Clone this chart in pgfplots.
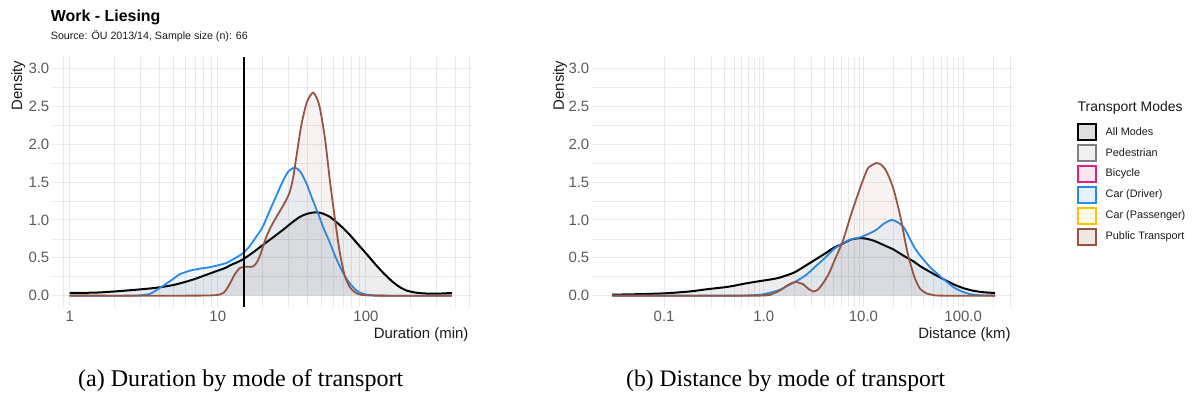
\documentclass[border=0pt]{standalone}
\usepackage{fontspec}
\setmainfont{Liberation Sans}
\newfontfamily\capfont{Liberation Serif}
\usepackage{graphicx}
\usepackage{pgfplots}
\pgfplotsset{compat=1.18}
\usepackage{pgfplotstable}

\definecolor{gridc}{RGB}{233,233,233}
\definecolor{tickc}{RGB}{90,90,90}
\definecolor{titc}{RGB}{25,25,25}
\definecolor{carblue}{RGB}{40,138,230}
\definecolor{ptbrown}{RGB}{152,84,64}
\definecolor{bikepink}{RGB}{214,38,118}
\definecolor{pasyellow}{RGB}{255,193,7}
\definecolor{pedgray}{RGB}{128,128,128}
\definecolor{allfill}{RGB}{221,221,221}
\definecolor{pedfill}{RGB}{240,240,240}
\definecolor{bikefill}{RGB}{250,228,240}
\definecolor{carfill}{RGB}{228,240,252}
\definecolor{pasfill}{RGB}{255,248,226}
\definecolor{ptfill}{RGB}{240,230,226}

% ---------------- Duration (min) ----------------
\pgfplotstableread{
x y
1 0.035
1.5 0.04
2 0.055
2.7 0.075
3.5 0.095
4.05 0.11
5 0.14
6 0.18
7 0.22
8.5 0.28
10 0.33
11.4 0.37
12.1 0.40
13.5 0.44
14.8 0.48
17 0.56
20.2 0.67
24 0.78
27.6 0.87
31 0.95
35.8 1.04
40 1.08
45.3 1.10
50 1.09
57.1 1.04
65 0.95
72 0.87
78 0.80
90 0.66
101 0.55
115 0.42
131 0.30
150 0.19
170 0.11
190 0.065
220 0.038
260 0.027
300 0.026
340 0.03
380 0.035
}\durall

\pgfplotstableread{
x y
1 0
2.5 0
3 0.005
3.5 0.025
4.05 0.10
4.5 0.16
5 0.22
5.5 0.28
6.5 0.33
7.5 0.355
8.8 0.375
10 0.40
11.4 0.43
12.7 0.48
14.8 0.56
16.5 0.66
18.2 0.78
20 0.90
22.5 1.13
25 1.33
27.6 1.52
30 1.64
33.1 1.69
36 1.64
39.7 1.48
43 1.30
47.4 1.09
52 0.88
57.1 0.70
62 0.52
66.6 0.39
72 0.26
78 0.16
85 0.08
91 0.04
100 0.015
112 0.005
130 0
380 0
}\durcar

\pgfplotstableread{
x y
1 0
7 0
9.3 0.005
10 0.01
11 0.04
12 0.15
13 0.28
14 0.36
15 0.38
16.5 0.38
17.3 0.385
18.2 0.43
19.2 0.52
21.3 0.78
23 0.92
24.9 1.04
28.2 1.22
30.5 1.36
32.2 1.55
33.9 1.83
36.7 2.26
40 2.56
44.1 2.68
48.3 2.52
52.8 2.09
57.1 1.52
61.9 1.00
66.6 0.57
72 0.26
78 0.11
85 0.04
91 0.015
100 0.005
120 0
380 0
}\durpt

% ---------------- Distance (km) ----------------
\pgfplotstableread{
x y
0.03 0.013
0.05 0.018
0.1 0.03
0.18 0.055
0.27 0.085
0.4 0.11
0.5 0.13
0.65 0.16
0.8 0.18
1.0 0.20
1.25 0.22
1.46 0.24
1.98 0.30
2.31 0.35
3.15 0.46
4.28 0.57
5.0 0.63
6.28 0.69
7.5 0.74
9.25 0.76
10.8 0.75
13 0.72
17.1 0.65
20 0.61
25 0.53
32 0.45
37 0.39
50 0.29
65 0.21
80 0.15
100 0.10
126 0.065
160 0.045
209 0.035
}\disall

\pgfplotstableread{
x y
0.03 0
0.5 0
0.7 0.003
0.92 0.012
1.0 0.02
1.2 0.045
1.46 0.08
1.98 0.17
2.31 0.22
2.7 0.28
3.4 0.40
4.2 0.51
5.0 0.61
6 0.68
7.35 0.74
9.25 0.77
11 0.81
13.5 0.87
16 0.95
19.2 1.00
22 0.97
25.1 0.91
28 0.80
32 0.65
37 0.53
47 0.37
55 0.29
63 0.22
75 0.14
86 0.087
100 0.05
117 0.02
140 0.008
170 0.002
209 0
}\discar

\pgfplotstableread{
x y
0.03 0
0.8 0
1.0 0.005
1.2 0.02
1.46 0.07
1.75 0.14
2.06 0.18
2.49 0.15
2.8 0.09
3.14 0.055
3.5 0.08
3.96 0.17
4.5 0.29
4.99 0.43
5.6 0.58
6.28 0.74
7.63 1.10
9.25 1.42
10.4 1.60
11.2 1.69
13.4 1.75
15 1.73
16.5 1.67
18 1.57
20 1.41
22 1.20
24.2 0.96
26 0.74
28.2 0.52
31 0.33
33 0.22
37 0.09
43 0.03
50 0.008
60 0
209 0
}\dispt

\pgfplotsset{
  mybase/.style={
    scale only axis, height=250bp,
    ymin=-0.15, ymax=3.15,
    axis line style={draw=none},
    major tick length=0pt, minor tick length=0pt,
    xmajorgrids, ymajorgrids, xminorgrids, yminorgrids,
    major grid style={draw=gridc, line width=0.9bp},
    minor grid style={draw=gridc, line width=0.5bp},
    ytick={0,0.5,1,1.5,2,2.5,3},
    yticklabels={0.0,0.5,1.0,1.5,2.0,2.5,3.0},
    minor ytick={0.25,0.75,1.25,1.75,2.25,2.75},
    tick label style={font=\fontsize{15}{18}\selectfont, text=tickc},
    yticklabel style={inner sep=0pt, xshift=-2.5bp},
    xticklabel style={inner sep=0pt, yshift=-4.3bp},
    label style={font=\fontsize{15}{18}\selectfont, text=titc},
    xlabel style={at={(axis description cs:1,0)}, anchor=base east, yshift=-31bp},
    ylabel={Density},
  },
  fillst/.style={draw=none, fill=#1, fill opacity=0.07, forget plot, smooth, tension=0.4},
  linest/.style={draw=#1, line width=1.8bp, forget plot, smooth, tension=0.4},
}

\begin{document}
\begin{tikzpicture}[x=1bp,y=1bp]
\path (0,0) rectangle (1197,399);

\node[anchor=base west, inner sep=0pt, font=\fontsize{16}{19}\selectfont\bfseries, text=black] at (50.7,377.5) {Work - Liesing};
\node[anchor=base west, inner sep=0pt, font=\fontsize{10.7}{13}\selectfont, text=titc] at (50.7,359.7) {Source: ÖU 2013/14, Sample size (n): 66};

\begin{axis}[mybase, xmode=log, at={(52bp,92bp)}, anchor=south west, width=420bp,
  xmin=0.76, xmax=520,
  xtick={1,10,100}, xticklabels={1,10,100},
  minor xtick={0.9,2,3,4,5,6,7,8,9,20,30,40,50,60,70,80,90,200,300,400,500},
  xlabel={Duration (min)},
  ylabel style={at={(axis description cs:-0.071,1)}, anchor=base east},
]
\addplot[fillst=black] table {\durall} \closedcycle;
\addplot[linest=black, line width=2bp] table {\durall};
\addplot[fillst=carblue] table {\durcar} \closedcycle;
\addplot[linest=carblue] table {\durcar};
\addplot[fillst=ptbrown] table {\durpt} \closedcycle;
\addplot[linest=ptbrown] table {\durpt};
\addplot[black, line width=1.8bp, forget plot] coordinates {(15,-0.15) (15,3.15)};
\end{axis}

\begin{axis}[mybase, xmode=log, at={(592bp,92bp)}, anchor=south west, width=422bp,
  xmin=0.0189, xmax=324,
  xtick={0.1,1,10,100}, xticklabels={0.1,1.0,10.0,100.0},
  minor xtick={0.2,0.3,0.4,0.5,0.6,0.7,0.8,0.9,2,3,4,5,6,7,8,9,20,30,40,50,60,70,80,90,200,300},
  xlabel={Distance (km)},
  ylabel style={at={(axis description cs:-0.0664,1)}, anchor=base east},
]
\addplot[fillst=black] table {\disall} \closedcycle;
\addplot[linest=black, line width=2bp] table {\disall};
\addplot[fillst=carblue] table {\discar} \closedcycle;
\addplot[linest=carblue] table {\discar};
\addplot[fillst=ptbrown] table {\dispt} \closedcycle;
\addplot[linest=ptbrown] table {\dispt};
\end{axis}

% legend (key, not data)
\node[anchor=base west, inner sep=0pt, font=\fontsize{14}{17}\selectfont, text=titc] at (1077.5,288) {Transport Modes};
\foreach \dc/\fc/\lab [count=\i from 0] in {black/allfill/All Modes, pedgray/pedfill/Pedestrian, bikepink/bikefill/Bicycle, carblue/carfill/Car (Driver), pasyellow/pasfill/Car (Passenger), ptbrown/ptfill/Public Transport}{
  \draw[draw=\dc, fill=\fc, line width=2.2bp] (1078,{267.3-21*\i-8}) rectangle (1096,{267.3-21*\i+8});
  \node[anchor=west, inner sep=0pt, font=\fontsize{10.9}{12}\selectfont, text=titc] at (1105.5,{267.3-21*\i}) {\lab};
}

\node[anchor=west, inner sep=0pt] at (78,18) {\resizebox{325bp}{!}{\capfont (a) Duration by mode of transport}};
\node[anchor=west, inner sep=0pt] at (626,18) {\resizebox{319bp}{!}{\capfont (b) Distance by mode of transport}};

\pgfresetboundingbox
\useasboundingbox (0,0) rectangle (1197,399);
\end{tikzpicture}
\end{document}
